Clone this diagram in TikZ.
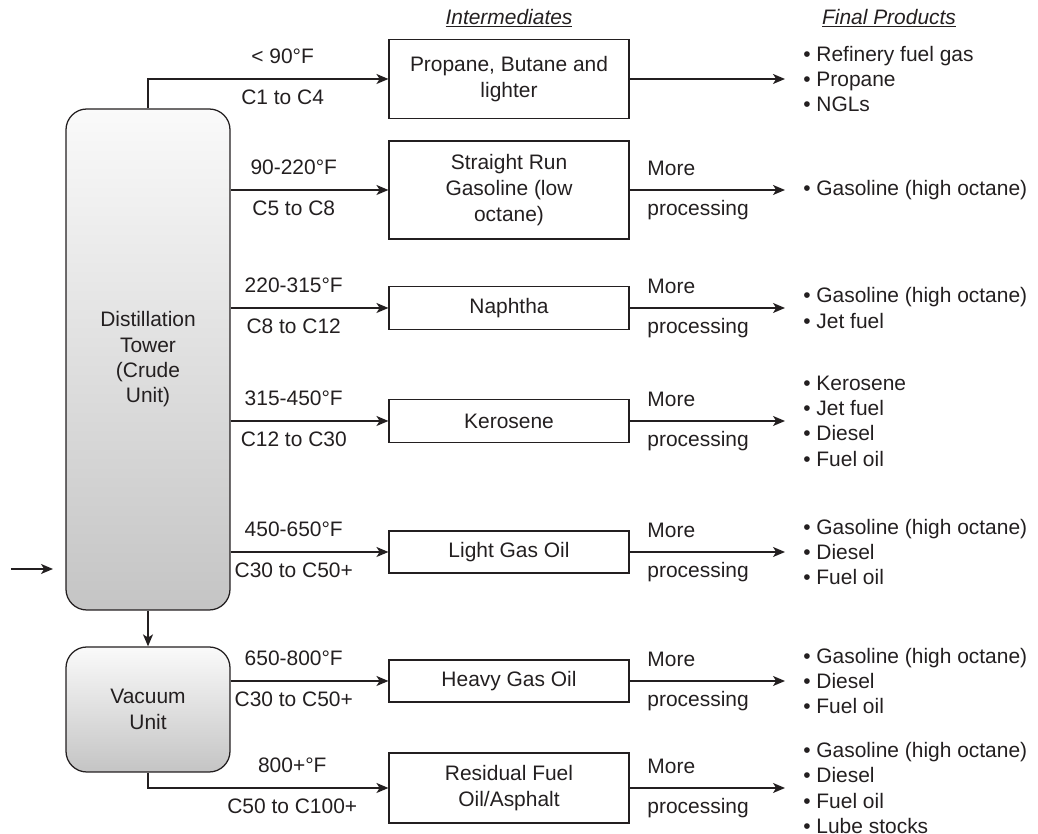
\documentclass[tikz,border=0pt]{standalone}
\usepackage{fontspec}
\setmainfont{Liberation Sans}
\usetikzlibrary{arrows.meta}
\definecolor{ink}{HTML}{231F20}

\begin{document}
\begin{tikzpicture}[font=\fontsize{14.9pt}{18pt}\selectfont, color=ink,
    unit/.style={draw=ink, line width=0.9pt, rounded corners=0.52cm, minimum width=4.1cm, top color=black!2, bottom color=black!23, align=center},
    cut/.style={draw=ink, line width=0.8pt, minimum width=6cm, inner sep=0pt, align=center, font=\fontsize{14.9pt}{18.6pt}\selectfont},
    flow/.style={-{Stealth[length=3mm,width=2.5mm,inset=0.8mm]}, line width=1.1pt},
    tag/.style={inner sep=0pt, text height=0.72em, text depth=0pt},
    prod/.style={anchor=west, inner xsep=0.45cm, inner ysep=0pt, align=left}]

                \useasboundingbox (0,0) rectangle (25.95,20.85);

                % column heads
                \node (inter) at (12.725, 20.4) {\underline{\textit{Intermediates}}};
                \node (final) at (22.225, 20.4) {\underline{\textit{Final Products}}};

                % units
                \node[unit, minimum height=12.525cm] (tower) at (3.7, 11.8625) {Distillation\\Tower\\(Crude\\Unit)};
                \node[unit, minimum height=3.125cm] (vac) at (3.7, 3.1125) {Vacuum\\Unit};
                \coordinate (feed) at (0.275, 6.625);
                \coordinate (inlet) at (1.325, 6.625);

                % cuts
                \node[cut, minimum height=1.975cm] (lpg) at (12.725, 18.875) {Propane, Butane and\\lighter};
                \node[cut, minimum height=2.45cm] (srg) at (12.725, 16.1) {Straight Run\\Gasoline (low\\octane)};
                \node[cut, minimum height=1.075cm] (nap) at (12.725, 13.15) {Naphtha};
                \node[cut, minimum height=1.075cm] (ker) at (12.725, 10.325) {Kerosene};
                \node[cut, minimum height=1.05cm] (lgo) at (12.725, 7.05) {Light Gas Oil};
                \node[cut, minimum height=1.05cm] (hgo) at (12.725, 3.825) {Heavy Gas Oil};
                \node[cut, minimum height=1.75cm] (res) at (12.725, 1.15) {Residual Fuel\\Oil/Asphalt};

                % products
                \node[prod] (p1) at (19.625, 18.875) {\textbullet{} Refinery fuel gas\\\textbullet{} Propane\\\textbullet{} NGLs};
                \node[prod] (p2) at (19.625, 16.1) {\textbullet{} Gasoline (high octane)};
                \node[prod] (p3) at (19.625, 13.15) {\textbullet{} Gasoline (high octane)\\\textbullet{} Jet fuel};
                \node[prod] (p4) at (19.625, 10.325) {\textbullet{} Kerosene\\\textbullet{} Jet fuel\\\textbullet{} Diesel\\\textbullet{} Fuel oil};
                \node[prod] (p5) at (19.625, 7.05) {\textbullet{} Gasoline (high octane)\\\textbullet{} Diesel\\\textbullet{} Fuel oil};
                \node[prod] (p6) at (19.625, 3.825) {\textbullet{} Gasoline (high octane)\\\textbullet{} Diesel\\\textbullet{} Fuel oil};
                \node[prod] (p7) at (19.625, 1.15) {\textbullet{} Gasoline (high octane)\\\textbullet{} Diesel\\\textbullet{} Fuel oil\\\textbullet{} Lube stocks};

                % crude in, bottoms to vacuum
                \draw[flow] (feed) -- (inlet);
                \draw[flow] (tower) -- (vac);

                % draws off the towers
                \draw[flow] (tower.north) |- node[tag, pos=.78, yshift=.525cm] {< 90°F} node[tag, pos=.78, yshift=-.5cm] {C1 to C4} (lpg.west);
                \draw[flow] (tower.east |- srg.west) -- node[tag, pos=.4, yshift=.525cm] {90-220°F} node[tag, pos=.4, yshift=-.5cm] {C5 to C8} (srg.west);
                \draw[flow] (tower.east |- nap.west) -- node[tag, pos=.4, yshift=.525cm] {220-315°F} node[tag, pos=.4, yshift=-.5cm] {C8 to C12} (nap.west);
                \draw[flow] (tower.east |- ker.west) -- node[tag, pos=.4, yshift=.525cm] {315-450°F} node[tag, pos=.4, yshift=-.5cm] {C12 to C30} (ker.west);
                \draw[flow] (tower.east |- lgo.west) -- node[tag, pos=.4, yshift=.525cm] {450-650°F} node[tag, pos=.4, yshift=-.5cm] {C30 to C50+} (lgo.west);
                \draw[flow] (vac.east |- hgo.west) -- node[tag, pos=.4, yshift=.525cm] {650-800°F} node[tag, pos=.4, yshift=-.5cm] {C30 to C50+} (hgo.west);
                \draw[flow] (vac.south) |- node[tag, pos=.8, yshift=.525cm] {800+°F} node[tag, pos=.8, yshift=-.5cm] {C50 to C100+} (res.west);

                % on to the products
                \draw[flow] (lpg.east) -- (p1.west);
                \draw[flow] (srg.east) -- node[tag, anchor=west, pos=.11, yshift=.5cm] {More} node[tag, anchor=west, pos=.11, yshift=-.5cm] {processing} (p2.west);
                \draw[flow] (nap.east) -- node[tag, anchor=west, pos=.11, yshift=.5cm] {More} node[tag, anchor=west, pos=.11, yshift=-.5cm] {processing} (p3.west);
                \draw[flow] (ker.east) -- node[tag, anchor=west, pos=.11, yshift=.5cm] {More} node[tag, anchor=west, pos=.11, yshift=-.5cm] {processing} (p4.west);
                \draw[flow] (lgo.east) -- node[tag, anchor=west, pos=.11, yshift=.5cm] {More} node[tag, anchor=west, pos=.11, yshift=-.5cm] {processing} (p5.west);
                \draw[flow] (hgo.east) -- node[tag, anchor=west, pos=.11, yshift=.5cm] {More} node[tag, anchor=west, pos=.11, yshift=-.5cm] {processing} (p6.west);
                \draw[flow] (res.east) -- node[tag, anchor=west, pos=.11, yshift=.5cm] {More} node[tag, anchor=west, pos=.11, yshift=-.5cm] {processing} (p7.west);
            \end{tikzpicture}
\end{document}
